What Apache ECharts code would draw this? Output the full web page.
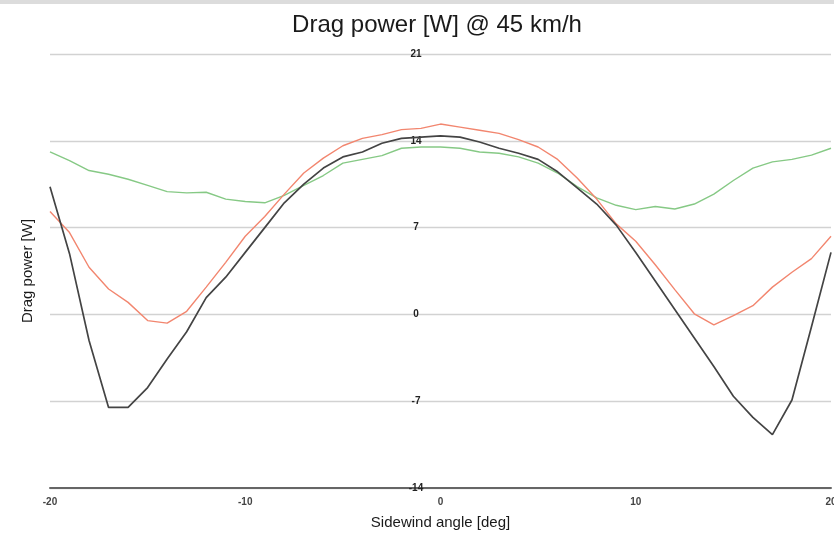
<!DOCTYPE html>
<html><head><meta charset="utf-8">
<script src="https://cdn.jsdelivr.net/npm/echarts@6/dist/echarts.min.js"></script>
<style>html,body{margin:0;padding:0;background:#fff}#c{width:834px;height:534px}</style>
</head><body><div id="c"></div>
<script>
const angles = [-20,-19,-18,-17,-16,-15,-14,-13,-12,-11,-10,-9,-8,-7,-6,-5,-4,-3,-2,-1,0,1,2,3,4,5,6,7,8,9,10,11,12,13,14,15,16,17,18,19,20];
const blackValues = [10.3,4.9,-2.1,-7.5,-7.5,-5.9,-3.6,-1.4,1.35,3.0,5.0,7.0,9.0,10.5,11.8,12.7,13.1,13.8,14.2,14.3,14.4,14.3,13.9,13.4,13.0,12.5,11.5,10.2,8.9,7.2,5.0,2.7,0.4,-1.9,-4.2,-6.6,-8.3,-9.7,-6.9,-1.0,5.0];
const redValues = [8.3,6.6,3.8,2.05,0.97,-0.5,-0.7,0.25,2.2,4.2,6.3,7.9,9.7,11.4,12.6,13.6,14.2,14.5,14.9,15.0,15.35,15.1,14.85,14.6,14.1,13.5,12.5,11.0,9.3,7.3,5.9,4.0,2.0,0.05,-0.85,-0.1,0.7,2.2,3.4,4.5,6.3];
const greenValues = [13.1,12.4,11.6,11.3,10.9,10.4,9.9,9.8,9.85,9.3,9.1,9.0,9.6,10.4,11.2,12.2,12.5,12.8,13.4,13.5,13.5,13.4,13.1,13.0,12.7,12.2,11.4,10.3,9.4,8.8,8.45,8.7,8.5,8.9,9.7,10.8,11.8,12.3,12.5,12.85,13.4];
const yMin = -14, yMax = 21, yStep = 7;
const xMin = -20, xMax = 20, xStep = 10;
const titleText = 'Drag power [W] @ 45 km/h';
const xName = 'Sidewind angle [deg]';
const yName = 'Drag power [W]';

const pair = v => angles.map((a, i) => [a, v[i]]);
const chart = echarts.init(document.getElementById('c'));
chart.setOption({
  animation: false,
  backgroundColor: '#fff',
  graphic: [{type:'rect', shape:{x:0,y:0,width:834,height:4}, style:{fill:'#dcdcdc'}, silent:true}],
  title: {
    text: titleText, left: 432, top: 8, textAlign: 'center',
    textStyle: {fontFamily: 'Liberation Sans, Arial, sans-serif', fontSize: 24, fontWeight: 'normal', color: '#1a1a1a'}
  },
  grid: {left: 50, right: 3, top: 54, bottom: 46, outerBoundsMode: 'none', containLabel: false},
  xAxis: {
    type: 'value', min: xMin, max: xMax, interval: xStep,
    name: xName, nameLocation: 'middle', nameGap: 27,
    nameTextStyle: {fontFamily: 'Liberation Sans, Arial, sans-serif', fontSize: 15, color: '#1a1a1a'},
    axisLine: {show: true, onZero: false, lineStyle: {color: '#666', width: 2}},
    axisTick: {show: false},
    splitLine: {show: false},
    axisLabel: {fontFamily: 'Liberation Sans, Arial, sans-serif', fontSize: 10, fontWeight: 'bold', color: '#444', margin: 9}
  },
  yAxis: {
    type: 'value', min: yMin, max: yMax, interval: yStep,
    name: yName, nameLocation: 'middle', nameGap: 15, nameRotate: 90,
    nameTextStyle: {fontFamily: 'Liberation Sans, Arial, sans-serif', fontSize: 15, color: '#1a1a1a'},
    axisLine: {show: false}, axisTick: {show: false},
    splitLine: {show: true, lineStyle: {color: '#d2d2d2', width: 1.3}},
    axisLabel: {fontFamily: 'Liberation Sans, Arial, sans-serif', fontSize: 10, fontWeight: 'bold', color: '#222', align: 'center', margin: -366}
  },
  series: [
    {type: 'line', data: pair(greenValues), showSymbol: false, lineStyle: {color: '#86c985', width: 1.4}, z: 2},
    {type: 'line', data: pair(redValues), showSymbol: false, lineStyle: {color: '#f2866f', width: 1.4}, z: 3},
    {type: 'line', data: pair(blackValues), showSymbol: false, lineStyle: {color: '#444444', width: 1.7}, z: 4}
  ]
});
</script></body></html>
